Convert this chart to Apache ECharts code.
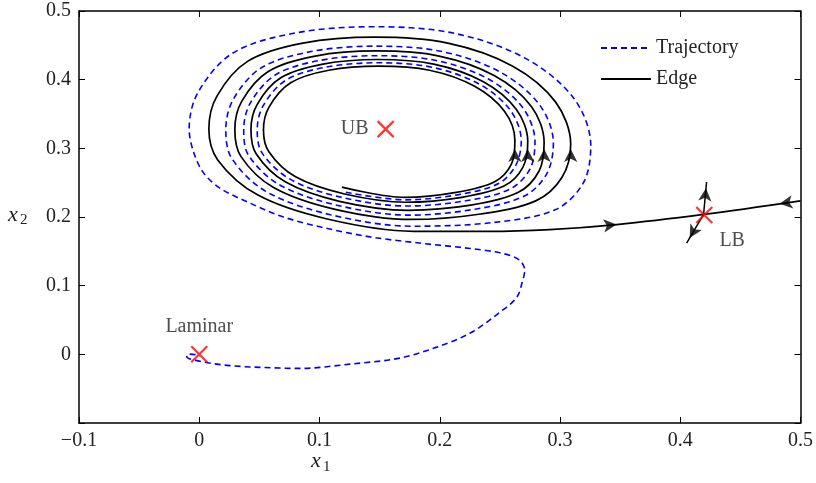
<!DOCTYPE html>
<html>
<head>
<meta charset="utf-8">
<script src="https://cdn.jsdelivr.net/npm/echarts@6/dist/echarts.min.js"></script>
<style>
  html, body { margin: 0; padding: 0; background: #fff; }
  #chart { width: 816px; height: 483px; }
</style>
</head>
<body>
<div id="chart"></div>
<script>
// tick values for both axes
var xTicks = [-0.1, 0, 0.1, 0.2, 0.3, 0.4, 0.5];
var yTicks = [-0.1, 0, 0.1, 0.2, 0.3, 0.4, 0.5];

// blue dashed trajectory: spirals out of the edge region, then falls to laminar
var trajectory = [
    [0.1219, 0.2360], [0.1715, 0.2250], [0.2158, 0.2326], [0.2489, 0.2487], [0.2633, 0.2754],
    [0.2678, 0.3108], [0.2587, 0.3555], [0.2326, 0.3938], [0.1932, 0.4182], [0.1489, 0.4246],
    [0.1053, 0.4182], [0.0719, 0.3991], [0.0531, 0.3619], [0.0482, 0.3268],
    [0.0522, 0.2934], [0.0758, 0.2548], [0.1189, 0.2284], [0.1728, 0.2160], [0.2216, 0.2236], [0.2586, 0.2408], [0.2751, 0.2700],
    [0.2792, 0.3095], [0.2692, 0.3588], [0.2404, 0.4010], [0.1970, 0.4279], [0.1481, 0.4349],
    [0.1000, 0.4279], [0.0632, 0.4068], [0.0424, 0.3658], [0.0370, 0.3271],
    [0.0409, 0.2901], [0.0666, 0.2470], [0.1144, 0.2172], [0.1748, 0.2027], [0.2295, 0.2114], [0.2708, 0.2309], [0.2892, 0.2636],
    [0.2945, 0.3078], [0.2831, 0.3631], [0.2508, 0.4106], [0.2020, 0.4409], [0.1470, 0.4488],
    [0.0929, 0.4409], [0.0515, 0.4172], [0.0282, 0.3710], [0.0221, 0.3276],
    [0.0268, 0.2861], [0.0553, 0.2374], [0.1089, 0.2034], [0.1772, 0.1866], [0.2424, 0.1916], [0.2959, 0.2104], [0.3195, 0.2499],
    [0.3256, 0.3042], [0.3118, 0.3721], [0.2721, 0.4303], [0.2122, 0.4675], [0.1448, 0.4771],
    [0.0784, 0.4675], [0.0277, 0.4384], [-0.0009, 0.3818], [-0.0084, 0.3285],
    [-0.0052, 0.2974], [0.0031, 0.2654], [0.0172, 0.2421], [0.0421, 0.2203], [0.0696, 0.2002],
    [0.1003, 0.1857], [0.1419, 0.1711], [0.1859, 0.1615], [0.2250, 0.1542], [0.2524, 0.1469],
    [0.2665, 0.1369], [0.2707, 0.1223], [0.2690, 0.1077], [0.2640, 0.0830], [0.2499, 0.0611],
    [0.2250, 0.0306], [0.1976, 0.0105], [0.1668, -0.0055], [0.1252, -0.0143], [0.0837, -0.0205],
    [0.0504, -0.0190], [0.0255, -0.0165], [0.0114, -0.0135], [0.0039, -0.0114], [-0.0036, -0.0084],
    [-0.0094, -0.0055], [-0.0106, -0.0019], [-0.0086, 0.0003], [-0.0036, -0.0004], [0.0006, -0.0026]
];

// black edge trajectory: spirals out from near UB and runs into LB
var edge = [
    [0.1186, 0.2435], [0.1709, 0.2285], [0.2137, 0.2358], [0.2457, 0.2513], [0.2596, 0.2770],
    [0.2625, 0.3114], [0.2538, 0.3540], [0.2290, 0.3904], [0.1915, 0.4137], [0.1493, 0.4197],
    [0.1077, 0.4137], [0.0760, 0.3955], [0.0580, 0.3600], [0.0534, 0.3267],
    [0.0579, 0.2950], [0.0801, 0.2585], [0.1209, 0.2335], [0.1720, 0.2215], [0.2183, 0.2287], [0.2534, 0.2450], [0.2692, 0.2727],
    [0.2732, 0.3102], [0.2636, 0.3570], [0.2363, 0.3971], [0.1950, 0.4227], [0.1485, 0.4294],
    [0.1028, 0.4227], [0.0678, 0.4027], [0.0481, 0.3637], [0.0430, 0.3270],
    [0.0473, 0.2920], [0.0715, 0.2512], [0.1166, 0.2228], [0.1738, 0.2097], [0.2258, 0.2172], [0.2650, 0.2356], [0.2825, 0.2666],
    [0.2868, 0.3086], [0.2762, 0.3610], [0.2456, 0.4058], [0.1995, 0.4344], [0.1476, 0.4418],
    [0.0964, 0.4344], [0.0574, 0.4120], [0.0353, 0.3684], [0.0296, 0.3274],
    [0.0346, 0.2883], [0.0618, 0.2429], [0.1121, 0.2115], [0.1757, 0.1964], [0.2341, 0.2044], [0.2798, 0.2235], [0.3017, 0.2579],
    [0.3089, 0.3061], [0.2964, 0.3673], [0.2607, 0.4197], [0.2067, 0.4532], [0.1460, 0.4619],
    [0.0862, 0.4532], [0.0405, 0.4270], [0.0147, 0.3760], [0.0080, 0.3280],
    [0.0155, 0.2828], [0.0488, 0.2319], [0.1064, 0.1971], [0.1782, 0.1792], [0.2400, 0.1790],
    [0.2914, 0.1816], [0.3471, 0.1889], [0.4194, 0.2037], [0.5000, 0.2235]
];

// arrow heads along the edge: x, y, rotation (deg)
var edgeArrows = [
    [0.2625, 0.299, 0], [0.2732, 0.299, 0], [0.2868, 0.299, 0], [0.3089, 0.299, 0],
    [0.3471, 0.1889, -84], [0.4826, 0.2193, 98],
    [0.4214, 0.2420, -5], [0.4078, 0.1695, 150]
];

// unstable directions out of LB
var lbUp = [[0.4194, 0.2037], [0.4219, 0.2509]];
var lbDown = [[0.4194, 0.2037], [0.4053, 0.1619]];

// fixed points
var pointNames = ['Laminar', 'UB', 'LB'];
var pointX = [0, 0.155, 0.42];
var pointY = [0, 0.328, 0.203];

var FONT = 'Liberation Serif';
var TXT = '#222';

function fmt(v) {
    v = Math.round(v * 10) / 10;
    return v < 0 ? '\u2212' + (-v) : String(v);
}

var chart = echarts.init(document.getElementById('chart'));

var axisBase = {
    type: 'value',
    interval: 0.1,
    axisLine: { onZero: false, lineStyle: { color: '#000', width: 1.5 } },
    axisTick: { inside: true, length: 6, lineStyle: { color: '#000', width: 1 } },
    splitLine: { show: false }
};

var labelPos = [
    { position: 'top', distance: 8 },
    { position: 'left', distance: 8 },
    { position: 'right', distance: 6, offset: [0, 26] }
];

var crossData = pointNames.map(function (n, i) {
    return {
        name: n,
        value: [pointX[i], pointY[i]],
        label: labelPos[i]
    };
});

var arrowData = edgeArrows.map(function (a) {
    return { value: [a[0], a[1]], symbolRotate: a[2] };
});

var option = {
    animation: false,
    backgroundColor: '#fff',
    grid: { left: 79, right: 15, top: 11, bottom: 60 },
    legend: {
        orient: 'vertical',
        left: 595,
        top: 33,
        itemWidth: 50,
        itemHeight: 14,
        itemGap: 11,
        itemStyle: { opacity: 0 },
        textStyle: { fontFamily: FONT, fontSize: 20, color: TXT },
        data: ['Trajectory', 'Edge']
    },
    xAxis: [
        Object.assign({}, axisBase, {
            position: 'bottom', min: xTicks[0], max: xTicks[xTicks.length - 1],
            axisLabel: { formatter: fmt, fontFamily: FONT, fontSize: 20, color: TXT, margin: 8 }
        }),
        Object.assign({}, axisBase, {
            position: 'top', min: xTicks[0], max: xTicks[xTicks.length - 1],
            axisLabel: { show: false }
        })
    ],
    yAxis: [
        Object.assign({}, axisBase, {
            position: 'left', min: yTicks[0], max: yTicks[yTicks.length - 1],
            axisLabel: {
                formatter: function (v) { return v < -0.05 ? '' : fmt(v); },
                fontFamily: FONT, fontSize: 20, color: TXT, margin: 8
            }
        }),
        Object.assign({}, axisBase, {
            position: 'right', min: yTicks[0], max: yTicks[yTicks.length - 1],
            axisLabel: { show: false }
        })
    ],
    graphic: [
        { type: 'text', left: 311, top: 450, style: { text: 'x', font: 'italic 22px "Liberation Serif"', fill: TXT } },
        { type: 'text', left: 323, top: 460, style: { text: '1', font: '15px "Liberation Serif"', fill: TXT } },
        { type: 'text', left: 8, top: 204, style: { text: 'x', font: 'italic 22px "Liberation Serif"', fill: TXT } },
        { type: 'text', left: 20, top: 213, style: { text: '2', font: '15px "Liberation Serif"', fill: TXT } }
    ],
    series: [
        {
            name: 'Trajectory',
            type: 'line',
            data: trajectory,
            smooth: 0.33,
            symbol: 'none',
            showSymbol: false,
            z: 2,
            lineStyle: { color: '#0000ff', width: 1.6, type: [6, 4] },
            itemStyle: { color: '#0000ff' }
        },
        {
            name: 'Edge',
            type: 'line',
            data: edge,
            smooth: 0.33,
            symbol: 'none',
            showSymbol: false,
            z: 3,
            lineStyle: { color: '#000', width: 1.7 },
            itemStyle: { color: '#000' }
        },
        {
            type: 'line', data: lbUp, symbol: 'none', z: 3,
            lineStyle: { color: '#000', width: 1.5 }
        },
        {
            type: 'line', data: lbDown, symbol: 'none', z: 3,
            lineStyle: { color: '#000', width: 1.5 }
        },
        {
            type: 'scatter', data: arrowData, symbol: 'arrow', symbolSize: [10, 13], z: 4,
            itemStyle: { color: '#000' }
        },
        {
            type: 'scatter',
            data: crossData,
            symbol: 'path://M0,0L10,10M10,0L0,10',
            symbolSize: 16,
            z: 5,
            itemStyle: { color: 'transparent', borderColor: '#ff0000', borderWidth: 2.2 },
            label: {
                show: true,
                formatter: '{b}',
                fontFamily: FONT, fontSize: 20, color: TXT
            }
        }
    ]
};

chart.setOption(option);
</script>
</body>
</html>
